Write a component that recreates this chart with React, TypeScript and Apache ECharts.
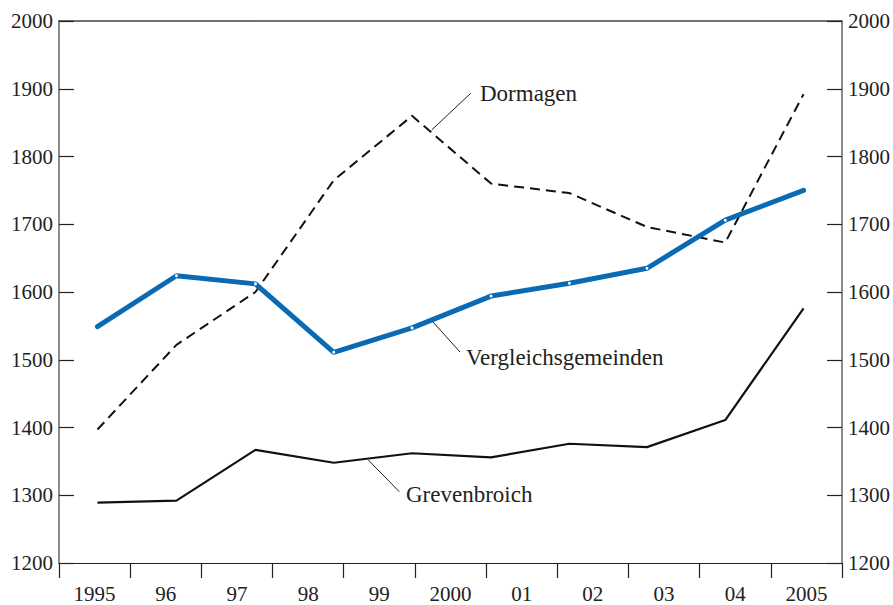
import React, { useEffect, useRef } from "react";
import * as echarts from "echarts";

const yearLabels = ["1995", "96", "97", "98", "99", "2000", "01", "02", "03", "04", "2005"];
const pointX = [0.54, 1.65, 2.76, 3.86, 4.96, 6.07, 7.17, 8.26, 9.36, 10.46];
const vergleich = [1549, 1624, 1612, 1511, 1547, 1594, 1613, 1635, 1706, 1750];
const dormagen = [1397, 1522, 1600, 1765, 1860, 1760, 1746, 1696, 1673, 1892];
const grevenbroich = [1289, 1292, 1367, 1348, 1362, 1356, 1376, 1371, 1411, 1576];

const FONT = "'Liberation Serif', 'DejaVu Serif', serif";
const BLUE = "#0a6ab4";

const pairs = (ys: number[]) => ys.map((y, i) => [pointX[i], y]);

export default function App() {
  const ref = useRef<HTMLDivElement>(null);
  useEffect(() => {
    if (!ref.current) return;
    const chart = echarts.init(ref.current, undefined, { renderer: "svg" });
    const yAxisCommon = {
      type: "value",
      min: 1200,
      max: 2000,
      interval: 100,
      splitLine: { show: false },
      axisLine: { show: true, lineStyle: { color: "#666", width: 1.5 } },
      axisTick: { show: true, inside: true, length: 15, lineStyle: { color: "#222", width: 1.2 } },
      axisLabel: {
        fontSize: 21,
        fontFamily: FONT,
        color: "#222",
        margin: 6,
        formatter: (v: number) => String(v),
      },
    };
    const vData = pairs(vergleich).map((p, i) =>
      i === 0 || i === vergleich.length - 1 ? { value: p, symbol: "none" } : { value: p }
    );
    chart.setOption({
      animation: false,
      backgroundColor: "#fff",
      grid: { left: 59, right: 51, top: 21, bottom: 42 },
      xAxis: [
        {
          type: "category",
          data: yearLabels,
          position: "bottom",
          boundaryGap: true,
          axisLine: { show: true, lineStyle: { color: "#222", width: 1.2 } },
          axisTick: { show: true, inside: false, length: 15, lineStyle: { color: "#222", width: 1.2 } },
          axisLabel: { fontSize: 21, fontFamily: FONT, color: "#222", margin: 20 },
          splitLine: { show: false },
        },
        {
          type: "value",
          min: 0,
          max: 11,
          position: "top",
          axisLine: { show: true, lineStyle: { color: "#444", width: 1.5 } },
          axisTick: { show: false },
          axisLabel: { show: false },
          splitLine: { show: false },
        },
      ],
      yAxis: [
        { ...yAxisCommon, position: "left" },
        { ...yAxisCommon, position: "right" },
      ],
      series: [
        {
          name: "Dormagen",
          type: "line",
          xAxisIndex: 1,
          yAxisIndex: 0,
          data: pairs(dormagen),
          symbol: "none",
          lineStyle: { color: "#111", width: 2, type: [10, 6] },
        },
        {
          name: "Grevenbroich",
          type: "line",
          xAxisIndex: 1,
          yAxisIndex: 0,
          data: pairs(grevenbroich),
          symbol: "none",
          lineStyle: { color: "#111", width: 2.2 },
        },
        {
          name: "Vergleichsgemeinden",
          type: "line",
          xAxisIndex: 1,
          yAxisIndex: 0,
          data: vData,
          symbol: "circle",
          symbolSize: 3,
          itemStyle: { color: "#fff", borderWidth: 0 },
          lineStyle: { color: BLUE, width: 5, cap: "round" },
          z: 5,
        },
      ],
      graphic: [
        { type: "line", shape: { x1: 431.7, y1: 130, x2: 470.7, y2: 93.3 }, style: { stroke: "#222", lineWidth: 1 } },
        { type: "text", x: 480, y: 93, style: { text: "Dormagen", font: `23px ${FONT}`, fill: "#222", verticalAlign: "middle" } },
        { type: "line", shape: { x1: 432.7, y1: 321.7, x2: 460, y2: 352 }, style: { stroke: "#222", lineWidth: 1 } },
        { type: "text", x: 466, y: 357, style: { text: "Vergleichsgemeinden", font: `23px ${FONT}`, fill: "#222", verticalAlign: "middle" } },
        { type: "line", shape: { x1: 368.3, y1: 460, x2: 399.3, y2: 491.7 }, style: { stroke: "#222", lineWidth: 1 } },
        { type: "text", x: 406, y: 494, style: { text: "Grevenbroich", font: `23px ${FONT}`, fill: "#222", verticalAlign: "middle" } },
      ],
    });
    return () => chart.dispose();
  }, []);
  return <div ref={ref} style={{ position: "fixed", left: 0, top: 0, width: 893, height: 605 }} />;
}
